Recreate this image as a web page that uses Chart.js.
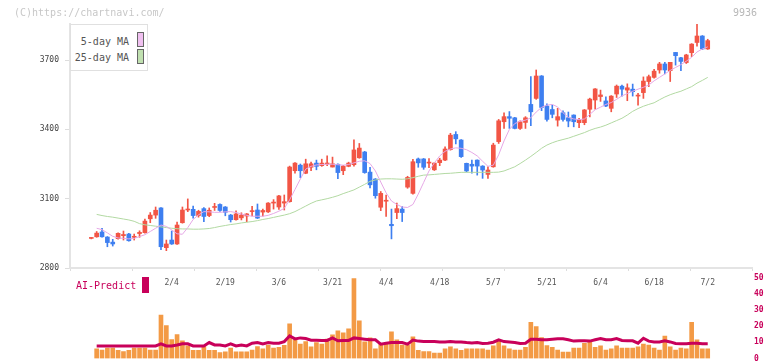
<!DOCTYPE html>
<html>
<head>
<meta charset="utf-8">
<script src="https://cdn.jsdelivr.net/npm/chart.js@4.4.1/dist/chart.umd.min.js"></script>
<style>
  body { margin: 0; width: 772px; height: 361px; overflow: hidden; position: relative; background: #fff; font-family: "DejaVu Sans Mono", monospace; }
  canvas { position: absolute; left: 0; }
  #main { top: 0; }
  #sub { top: 270px; }
  .txt { position: absolute; font-size: 10px; line-height: 10px; white-space: nowrap; }
  #copy { left: 14px; top: 8px; color: #c8c8c8; }
  #code { left: 733px; top: 8px; color: #b8b8b8; }
  #legend { position: absolute; left: 70px; top: 24px; width: 78px; height: 47px; box-sizing: border-box; border: 1px solid #e0e0e0; background: #fff; }
  #legend .txt { color: #555; right: 18px; }
  .sw { position: absolute; left: 66px; width: 7px; box-sizing: border-box; border: 1px solid #666; }
  #ai { left: 76px; top: 281px; color: #c8005a; }
  #aibox { position: absolute; left: 142px; top: 277px; width: 7px; height: 16px; background: #c8005a; }
</style>
</head>
<body>
<canvas id="main" width="772" height="300"></canvas>
<canvas id="sub" width="772" height="100"></canvas>
<div class="txt" id="copy">(C)https://chartnavi.com/</div>
<div class="txt" id="code">9936</div>
<div id="legend">
  <div class="txt" style="top:12px">5-day MA</div>
  <div class="sw" style="top:7px;height:15px;background:#f0c0f0"></div>
  <div class="txt" style="top:28px">25-day MA</div>
  <div class="sw" style="top:24px;height:15px;background:#c0e0b0"></div>
</div>
<div class="txt" id="ai">AI-Predict</div>
<div id="aibox"></div>
<script>
// 日付 (trading days)
const dates = ['1/14','1/15','1/16','1/17','1/20','1/21','1/22','1/23','1/24','1/27','1/28','1/29','1/30','1/31',
  '2/3','2/4','2/5','2/6','2/7','2/10','2/12','2/13','2/14','2/17','2/18','2/19','2/20','2/21','2/25','2/26','2/27','2/28',
  '3/3','3/4','3/5','3/6','3/7','3/10','3/11','3/12','3/13','3/14','3/17','3/18','3/19','3/21','3/24','3/25','3/26','3/27','3/28','3/31',
  '4/1','4/2','4/3','4/4','4/7','4/8','4/9','4/10','4/11','4/14','4/15','4/16','4/17','4/18','4/21','4/22','4/23','4/24','4/25','4/28','4/30',
  '5/1','5/2','5/7','5/8','5/9','5/12','5/13','5/14','5/15','5/16','5/19','5/20','5/21','5/22','5/23','5/26','5/27','5/28','5/29','5/30',
  '6/2','6/3','6/4','6/5','6/6','6/9','6/10','6/11','6/12','6/13','6/16','6/17','6/18','6/19','6/20','6/23','6/24','6/25','6/26','6/27','6/30',
  '7/1','7/2'];
const tickDates = ['2/4','2/19','3/6','3/21','4/4','4/18','5/7','5/21','6/4','6/18','7/2'];
const priceTicks = [2800, 3100, 3400, 3700];

const opens = [2928,2935,2956,2934,2912,2927,2940,2947,2933,2949, 2953,3013,3029,3060,2888,2921,2904,2996,3051,3054,
  3027,3057,3027,3062,3075,3064,3029,3009,3017,3025, 3044,3051,3042,3043,3081,3064,3081,3087,3221,3245,
  3210,3236,3254,3243,3250,3237,3249,3221,3240,3247, 3277,3302,3215,3185,3063,3089,2989,3040,3055,3150,
  3123,3272,3272,3254,3225,3256,3267,3312,3378,3354, 3253,3249,3267,3241,3205,3238,3347,3433,3455,3450,
  3404,3430,3508,3534,3631,3501,3486,3440,3472,3450, 3462,3429,3429,3487,3527,3542,3523,3491,3553,3587,
  3570,3574,3544,3559,3607,3625,3657,3683,3654,3733, 3710,3689,3732,3776,3804,3748];
const highs = [2932,2958,2972,2936,2924,2952,2960,2950,2947,2961, 3012,3040,3064,3062,2921,2960,2999,3064,3099,3068,
  3050,3061,3060,3080,3078,3066,3032,3047,3039,3036, 3067,3077,3055,3083,3096,3114,3116,3241,3256,3250,
  3271,3258,3267,3271,3285,3280,3251,3244,3258,3355, 3339,3305,3236,3187,3131,3116,3055,3081,3066,3197,
  3270,3276,3274,3274,3256,3275,3324,3383,3390,3356, 3254,3267,3268,3243,3238,3340,3443,3472,3477,3452,
  3437,3455,3628,3657,3633,3510,3505,3491,3480,3475, 3463,3448,3486,3535,3577,3570,3541,3546,3592,3592,
  3597,3596,3556,3627,3635,3660,3690,3690,3690,3733, 3712,3725,3771,3856,3806,3790];
const lows = [2926,2933,2933,2892,2895,2925,2921,2916,2921,2933, 2951,2996,3015,2879,2875,2902,2902,2994,3044,3016,
  3020,3001,3022,3049,3045,3026,2999,3007,3008,3000, 3025,3014,3025,3040,3055,3053,3051,3085,3210,3191,
  3208,3221,3225,3240,3243,3237,3187,3204,3238,3241, 3275,3210,3147,3102,3048,3023,2926,3014,3001,3145,
  3120,3236,3227,3234,3222,3243,3265,3310,3337,3279, 3216,3210,3202,3188,3188,3236,3339,3404,3404,3402,
  3400,3404,3416,3530,3481,3435,3450,3414,3435,3411, 3411,3407,3420,3454,3487,3521,3498,3476,3538,3544,
  3524,3544,3505,3534,3585,3622,3643,3640,3607,3678, 3654,3685,3715,3760,3746,3746];
const closes = [2930,2951,2935,2910,2904,2950,2945,2918,2937,2954, 3003,3029,3050,2892,2904,2904,2986,3051,3054,3027,
  3045,3023,3050,3066,3049,3041,3009,3034,3029,3034, 3047,3016,3049,3081,3083,3112,3087,3237,3254,3221,
  3251,3251,3240,3254,3253,3251,3213,3241,3254,3311, 3319,3213,3160,3113,3123,3093,2983,3057,3040,3192,
  3260,3255,3236,3257,3254,3267,3315,3375,3359,3282, 3220,3241,3241,3224,3224,3332,3437,3455,3448,3404,
  3433,3450,3476,3631,3495,3443,3465,3455,3443,3436, 3433,3443,3484,3531,3575,3549,3501,3544,3587,3574,
  3580,3563,3548,3609,3628,3652,3683,3657,3690,3719, 3694,3722,3769,3804,3748,3784];

// 移動平均
const ma5 = [null,2972,2966,2952,2937,2930,2928,2926,2928,2936, 2944,2958,2972,2986,2980,2965,2948,2946,2975,3010,
  3030,3044,3043,3041,3041,3043,3044,3040,3034,3028, 3024,3024,3024,3028,3036,3046,3058,3095,3140,3185,
  3228,3240,3246,3248,3249,3249,3247,3245,3248,3255, 3262,3264,3252,3220,3172,3125,3090,3075,3064,3062,
  3075,3120,3170,3220,3255,3285,3305,3315,3320,3318, 3312,3300,3285,3262,3240,3245,3290,3350,3400,3425,
  3435,3440,3450,3475,3495,3505,3508,3497,3472,3452, 3445,3442,3445,3465,3485,3496,3508,3516,3530,3545,
  3555,3565,3574,3582,3592,3610,3625,3640,3655,3668, 3680,3695,3712,3735,3748,3757];
const ma25 = [null,3032,3027,3023,3020,3016,3012,3008,3002,2992, 2987,2984,2981,2978,2975,2972,2970,2969,2969,2968,
  2968,2969,2971,2975,2980,2984,2988,2991,2995,2998, 3001,3005,3010,3014,3019,3024,3029,3035,3044,3056,
  3068,3080,3090,3095,3100,3106,3113,3122,3130,3138, 3150,3162,3175,3181,3185,3186,3186,3185,3184,3186,
  3191,3197,3202,3203,3205,3207,3209,3210,3212,3214, 3214,3214,3214,3214,3214,3214,3215,3220,3229,3238,
  3252,3267,3283,3300,3318,3332,3342,3350,3356,3362, 3370,3378,3386,3396,3404,3410,3418,3428,3438,3448,
  3462,3478,3490,3500,3508,3515,3528,3540,3550,3558, 3565,3575,3585,3600,3612,3625];

// 出来高 と AI-Predict
const volume = [null,6,5.3,6.5,6.5,5,4.3,5,6.5,6.5, 6.5,5.3,5.3,27,20.5,11.8,14.8,11,7.8,5,
  5,7.4,5,5,3.7,4.2,6.5,4.2,4.2,4.2, 5.3,7.4,6,8.4,6.5,7,8.2,21.5,11.6,9,
  10.5,7.2,9.9,9,12,14.7,17.2,16,18.4,49.7, 23.4,10.3,12.8,6,9,9,16.6,11.6,8.4,8.4,
  13.4,5,4.3,4.3,3.4,3.4,6,7.2,6,5, 6,6,6,6,5.3,7.8,11,7.8,6,5.3,
  5.3,7,22.4,19.9,13,8,7,5.3,4,4, 6.4,6.4,9.5,10.5,7,7.8,5.3,6,7.8,6.5,
  6.5,6.5,7.2,9,8.4,6.5,5.3,14,7.2,5.3, 6.5,6,22.4,11.6,6,6];
const aiPredict = [null,7.8,7.8,7.8,7.8,7.8,7.8,7.8,7.8,7.8, 7.8,7.8,7.8,9.1,7.8,7.8,8.4,9.1,9.1,7.8,
  7.8,7.8,9.9,8.4,8.4,7.8,9.1,7.8,8.4,7.8, 9.5,9.9,9.1,9.9,9.5,9.5,10.5,14,12.2,12.8,
  12.4,11.4,11.4,11.2,11.2,12.8,11,11.2,11.2,12.8, 12.4,12,11.6,11.6,8.9,9.5,9.9,9.9,9.9,8.9,
  11.4,10.8,10.5,10.5,10.5,10.3,10.3,10.5,10.3,10.3, 9.9,9.7,9.9,9.3,9.5,10.1,11.6,10.5,10.3,9.9,
  9.3,9.5,12,12,11.6,11.6,12,12.2,12.2,11.6, 10.8,11,11,10.8,11.6,12.4,11.6,11.6,12.4,11.2,
  11,11,9.5,12.6,10.8,10.3,10.3,11,10.3,9.3, 9.1,9.1,9.5,9.5,9.1,9.1];

const RED = '#f25545', BLUE = '#3e7ff0', ORANGE = '#f39a45', MAGENTA = '#c8005a';
const PINK = '#e6a8e6', GREEN = '#b2d9a2';
const FONT = "'DejaVu Sans Mono', monospace";

// x range of the plot (index units), 70px .. 752px
const XMIN = -2.974, XMAX = 124.26;

const labelIdx = tickDates.map(d => dates.indexOf(d) + 1);
const labelSet = new Set(labelIdx);
const marks = [];
for (let i = 0; i <= 11; i++) marks.push(XMIN + i * (XMAX - XMIN) / 11);

const pts = arr => arr.map((v, i) => ({ x: i + 1, y: v }));
const bodies = dates.map((d, i) => ({ x: i + 1, y: [opens[i], closes[i]] }));
const wicks = dates.map((d, i) => ({ x: i + 1, y: [lows[i], highs[i]] }));
const candleColor = ctx => closes[ctx.dataIndex] >= opens[ctx.dataIndex] ? RED : BLUE;

new Chart(document.getElementById('main'), {
  type: 'bar',
  data: {
    datasets: [
      { type: 'line', data: pts(ma5), borderColor: PINK, borderWidth: 1, pointRadius: 0, tension: 0, order: 0 },
      { type: 'line', data: pts(ma25), borderColor: GREEN, borderWidth: 1, pointRadius: 0, tension: 0, order: 1 },
      { data: bodies, backgroundColor: candleColor, barThickness: 4, minBarLength: 1, grouped: false, order: 2 },
      { data: wicks, backgroundColor: candleColor, barThickness: 1, grouped: false, order: 3 }
    ]
  },
  options: {
    responsive: false,
    animation: false,
    devicePixelRatio: 1,
    layout: { padding: { left: 0, right: 20, top: 24, bottom: 0 } },
    plugins: { legend: { display: false }, tooltip: { enabled: false } },
    scales: {
      x: {
        type: 'linear', min: XMIN, max: XMAX, offset: false,
        afterFit: s => { s.height = 32; },
        afterBuildTicks: s => { s.ticks = marks.concat(labelIdx).sort((a, b) => a - b).map(v => ({ value: v })); },
        ticks: {
          autoSkip: false, maxRotation: 0, padding: 7, color: '#555',
          font: { family: FONT, size: 8 },
          callback: v => labelSet.has(v) ? dates[v - 1] : ''
        },
        grid: {
          offset: false, drawOnChartArea: false, tickLength: 3,
          color: ctx => (ctx.tick && labelSet.has(ctx.tick.value)) ? 'rgba(0,0,0,0)' : '#dddddd'
        },
        border: { color: '#e4e4e4', width: 2 }
      },
      y: {
        min: 2800, max: 3856,
        afterFit: s => { s.width = 70; },
        afterBuildTicks: s => { s.ticks = priceTicks.map(v => ({ value: v })); },
        ticks: { padding: 6, color: '#444', font: { family: FONT, size: 8 }, callback: v => String(v) },
        grid: { drawOnChartArea: false, tickLength: 5, color: '#dddddd' },
        border: { color: '#e4e4e4', width: 2 }
      }
    }
  }
});

new Chart(document.getElementById('sub'), {
  type: 'bar',
  data: {
    datasets: [
      { type: 'line', data: pts(aiPredict), borderColor: MAGENTA, borderWidth: 3, pointRadius: 0, tension: 0, order: 0 },
      { data: pts(volume), backgroundColor: ORANGE, barThickness: 4, order: 1 }
    ]
  },
  options: {
    responsive: false,
    animation: false,
    devicePixelRatio: 1,
    layout: { padding: { left: 70, right: 0, top: 8, bottom: 11.5 } },
    plugins: { legend: { display: false }, tooltip: { enabled: false } },
    scales: {
      x: { type: 'linear', min: XMIN, max: XMAX, offset: false, display: false },
      y: {
        position: 'right', min: 0, max: 50,
        afterFit: s => { s.width = 20; },
        ticks: { stepSize: 10, padding: 2, color: MAGENTA, font: { family: FONT, size: 8, weight: 'bold' } },
        grid: { display: false, drawTicks: false },
        border: { display: false }
      }
    }
  }
});
</script>
</body>
</html>
